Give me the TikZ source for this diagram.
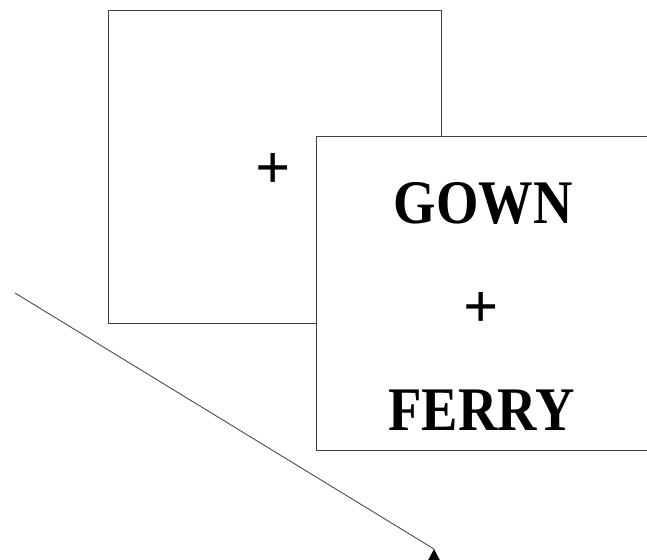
\documentclass[tikz,border=0pt]{standalone}
\usepackage{fontspec}
\setmainfont{Liberation Serif}
\newfontfamily\wordfont[FakeStretch=0.88]{Liberation Serif}
\begin{document}
\begin{tikzpicture}[x=1pt,y=-1pt,
  frame/.style={draw=black!75,line width=0.9pt,fill=white,rectangle,inner sep=0pt},
  word/.style={font=\wordfont\fontsize{62}{62}\selectfont\bfseries,inner sep=0pt},
  fix/.style={font=\fontsize{62}{62}\selectfont\bfseries,inner sep=0pt}]
\clip (0,0) rectangle (647,559);
\fill[white] (0,0) rectangle (647,559);
% first screen: fixation cross
\node[frame,minimum width=333pt,minimum height=313pt] (blank) at (274.5,166.5) {};
\node[fix] (cross1) at (273.5,170.5) {+};
% second screen: two words around the cross
\node[frame,minimum width=344pt,minimum height=314pt] (pair) at (488,293) {};
\node[word] (top) at (483,203.5) {GOWN};
\node[fix] (cross2) at (481.5,310) {+};
\node[word] (bottom) at (481.5,410) {FERRY};
% time axis
\coordinate (tstart) at (15,293);
\coordinate (tend) at (434,549);
\draw[black!70,line width=0.9pt] (tstart) -- (tend);
\fill (tend) -- ++(-10,19) -- ++(20,0) -- cycle;
\end{tikzpicture}
\end{document}
